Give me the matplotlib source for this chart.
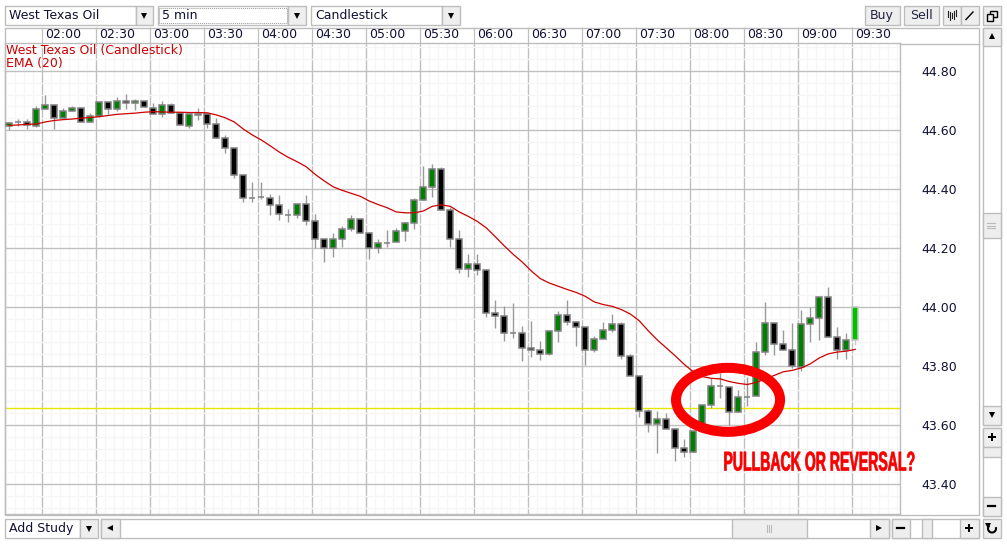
import numpy as np
import matplotlib
matplotlib.use("Agg")
import matplotlib.pyplot as plt
from matplotlib.patches import Rectangle, Ellipse, Arc
from matplotlib.patheffects import AbstractPathEffect
from matplotlib.transforms import Affine2D, ScaledTranslation

# 5 min bars, first bar starts 01:40
opens = [44.614, 44.628, 44.628, 44.614, 44.670, 44.683, 44.640, 44.665, 44.673, 44.626,
         44.648, 44.694, 44.670, 44.699, 44.690, 44.697, 44.676, 44.653, 44.686, 44.657,
         44.614, 44.653, 44.653, 44.619, 44.572, 44.538, 44.446, 44.370, 44.372, 44.370,
         44.345, 44.313, 44.312, 44.348, 44.290, 44.229, 44.199, 44.229, 44.263, 44.297,
         44.250, 44.199, 44.218, 44.219, 44.259, 44.284, 44.362, 44.406, 44.467, 44.328,
         44.229, 44.128, 44.147, 44.125, 43.979, 43.968, 43.911, 43.911, 43.860, 43.853,
         43.842, 43.918, 43.972, 43.948, 43.931, 43.853, 43.892, 43.921, 43.941, 43.833,
         43.765, 43.646, 43.602, 43.621, 43.585, 43.521, 43.507, 43.578, 43.667, 43.733,
         43.730, 43.643, 43.696, 43.697, 43.846, 43.945, 43.874, 43.853, 43.798, 43.941,
         43.962, 44.033, 43.897, 43.853, 43.887]
closes = [44.625, 44.627, 44.616, 44.671, 44.683, 44.640, 44.665, 44.673, 44.626, 44.648,
          44.694, 44.670, 44.699, 44.690, 44.697, 44.677, 44.653, 44.686, 44.657, 44.616,
          44.653, 44.652, 44.619, 44.572, 44.538, 44.446, 44.368, 44.369, 44.371, 44.345,
          44.314, 44.312, 44.348, 44.290, 44.229, 44.199, 44.229, 44.263, 44.297, 44.250,
          44.199, 44.216, 44.217, 44.259, 44.284, 44.362, 44.406, 44.467, 44.328, 44.229,
          44.128, 44.147, 44.125, 43.979, 43.968, 43.911, 43.910, 43.860, 43.853, 43.842,
          43.918, 43.972, 43.948, 43.931, 43.853, 43.892, 43.921, 43.941, 43.833, 43.765,
          43.646, 43.602, 43.621, 43.585, 43.521, 43.507, 43.579, 43.667, 43.733, 43.732,
          43.643, 43.694, 43.695, 43.846, 43.945, 43.874, 43.853, 43.799, 43.941, 43.962,
          44.033, 43.897, 43.853, 43.887, 43.999]
highs = [44.627, 44.637, 44.637, 44.681, 44.719, 44.683, 44.676, 44.681, 44.673, 44.656,
         44.694, 44.694, 44.713, 44.722, 44.704, 44.697, 44.692, 44.698, 44.692, 44.657,
         44.653, 44.676, 44.654, 44.641, 44.583, 44.538, 44.446, 44.424, 44.424, 44.383,
         44.380, 44.332, 44.348, 44.380, 44.315, 44.229, 44.250, 44.275, 44.312, 44.302,
         44.253, 44.229, 44.261, 44.267, 44.289, 44.368, 44.479, 44.485, 44.476, 44.338,
         44.261, 44.180, 44.180, 44.125, 44.024, 44.003, 44.014, 43.936, 43.953, 43.885,
         43.922, 43.986, 44.024, 43.953, 43.931, 43.902, 43.949, 43.976, 43.948, 43.841,
         43.765, 43.653, 43.647, 43.640, 43.585, 43.551, 43.580, 43.667, 43.758, 43.775,
         43.730, 43.719, 43.762, 43.882, 44.016, 43.945, 43.922, 43.946, 43.990, 43.999,
         44.033, 44.067, 43.931, 43.911, 44.000]
lows = [44.600, 44.614, 44.603, 44.610, 44.670, 44.603, 44.640, 44.664, 44.626, 44.626,
        44.644, 44.654, 44.665, 44.670, 44.668, 44.677, 44.653, 44.645, 44.657, 44.616,
        44.608, 44.632, 44.607, 44.572, 44.523, 44.438, 44.357, 44.357, 44.366, 44.312,
        44.293, 44.289, 44.300, 44.278, 44.201, 44.153, 44.168, 44.202, 44.259, 44.250,
        44.164, 44.184, 44.202, 44.219, 44.225, 44.263, 44.362, 44.374, 44.328, 44.203,
        44.116, 44.103, 44.108, 43.967, 43.930, 43.886, 43.896, 43.817, 43.831, 43.820,
        43.838, 43.881, 43.940, 43.868, 43.803, 43.848, 43.892, 43.915, 43.825, 43.765,
        43.628, 43.577, 43.506, 43.585, 43.479, 43.492, 43.507, 43.575, 43.657, 43.690,
        43.600, 43.643, 43.664, 43.697, 43.837, 43.837, 43.853, 43.792, 43.784, 43.882,
        43.888, 43.897, 43.825, 43.825, 43.871]
ema20 = [44.615, 44.617, 44.619, 44.620, 44.627, 44.632, 44.635, 44.637, 44.640, 44.642,
         44.645, 44.649, 44.653, 44.655, 44.657, 44.660, 44.662, 44.661, 44.660, 44.660,
         44.659, 44.659, 44.658, 44.651, 44.641, 44.627, 44.603, 44.583, 44.566, 44.546,
         44.525, 44.507, 44.492, 44.475, 44.449, 44.427, 44.407, 44.395, 44.385, 44.375,
         44.359, 44.347, 44.336, 44.322, 44.319, 44.319, 44.325, 44.341, 44.346, 44.341,
         44.322, 44.307, 44.290, 44.268, 44.238, 44.207, 44.178, 44.152, 44.122, 44.096,
         44.081, 44.070, 44.059, 44.049, 44.036, 44.017, 44.008, 44.002, 43.991, 43.976,
         43.953, 43.919, 43.888, 43.861, 43.834, 43.805, 43.780, 43.764, 43.758, 43.756,
         43.747, 43.741, 43.737, 43.744, 43.756, 43.768, 43.780, 43.785, 43.793, 43.807,
         43.827, 43.841, 43.847, 43.850, 43.856]
support_level = 43.658
price_ticks = [44.80, 44.60, 44.40, 44.20, 44.00, 43.80, 43.60, 43.40]
time_labels = ['02:00', '02:30', '03:00', '03:30', '04:00', '04:30', '05:00', '05:30',
               '06:00', '06:30', '07:00', '07:30', '08:00', '08:30', '09:00', '09:30']

BORDER = '#bdbdbd'
BTN = '#eeeeee'
FS = 9
W, H = 1007, 546

fig = plt.figure(figsize=(W / 100, H / 100), dpi=100, facecolor='white')
plt.rcParams['font.family'] = 'DejaVu Sans'

# widgets round the chart, in pixels
ui = fig.add_axes([0, 0, 1, 1], zorder=1)
ui.set_xlim(0, W)
ui.set_ylim(H, 0)
ui.axis('off')


def box(x0, y0, x1, y1, fc='white', ec=BORDER):
    ui.add_patch(Rectangle((x0, y0), x1 - x0, y1 - y0, fc=fc, ec=ec, lw=1))


def arrow(x, y, marker, size=4):
    ui.plot([x], [y], marker=marker, color='black', ms=size, mew=0, ls='none')


def dash(x, y):
    ui.plot([x - 3.5, x + 3.5], [y, y], color='black', lw=1.6)


def combo(x0, x1, btn_x, label, y0=6, y1=24.5):
    box(x0, y0, btn_x, y1)
    box(btn_x, y0, x1, y1, fc=BTN)
    arrow((btn_x + x1) / 2, (y0 + y1) / 2 + 0.5, 'v', 5)
    ui.text(x0 + 4.5, (y0 + y1) / 2, label, fontsize=FS, va='center', color='#111133')


def button(x0, x1, label, y0=6, y1=24.5):
    box(x0, y0, x1, y1, fc=BTN)
    ui.text((x0 + x1) / 2, (y0 + y1) / 2, label, fontsize=FS, va='center', ha='center',
            color='#222244')


combo(4.5, 153, 135.5, 'West Texas Oil')
combo(157.5, 306, 288, '5 min')
ui.add_patch(Rectangle((159, 7.5), 128, 15.5, fc='none', ec='#999999', lw=0.7, ls=(0, (1, 1))))
combo(310.5, 459.5, 441.5, 'Candlestick')
button(864.5, 899.5, 'Buy')
button(903.5, 939, 'Sell')
box(942.5, 6, 960.5, 24.5, fc=BTN)
box(960.5, 6, 978.5, 24.5, fc=BTN)
for i, (a, b) in enumerate([(11, 17), (12, 20), (13, 18), (11, 19), (10, 16)]):
    ui.plot([947.5 + i * 2] * 2, [a, b], color='#222222', lw=0.8)
ui.plot([966, 973], [19.5, 12], color='black', lw=1)
box(982.5, 6, 1000.5, 24.5, fc=BTN)
box(990, 10.5, 996.5, 17, fc=BTN, ec='black')
box(987, 14, 993, 20.5, fc=BTN, ec='black')

# price axis frame and right side scroller
box(5, 27.5, 978.5, 514.5)
ui.plot([900, 978.5], [43.5, 43.5], color=BORDER, lw=1)
box(982.5, 27.5, 1000.5, 424.5)
box(982.5, 27.5, 1000.5, 45.5, fc=BTN)
arrow(991.5, 36, '^', 5)
box(982.5, 213, 1000.5, 237.5, fc=BTN)
for yy in (223, 225.5, 228):
    ui.plot([987, 994.5], [yy, yy], color='#bbbbbb', lw=0.8)
box(982.5, 406, 1000.5, 424.5, fc=BTN)
arrow(991.5, 415, 'v', 5)
box(982.5, 428, 1000.5, 515.5)
box(982.5, 428, 1000.5, 446.5, fc=BTN)
arrow(991.5, 437, 'P', 6)
box(982.5, 446.5, 1000.5, 457, fc=BTN)
box(982.5, 497, 1000.5, 515.5, fc=BTN)
dash(991.5, 506)

# bottom bar
combo(4.5, 98, 79.5, 'Add Study', 519, 537.5)
box(101, 519, 888.5, 537.5)
box(101, 519, 119.5, 537.5, fc=BTN)
arrow(110, 528, '<', 5)
box(731.5, 519, 806.5, 537.5, fc=BTN)
for xx in (767, 769, 771):
    ui.plot([xx, xx], [524.5, 532], color='#bbbbbb', lw=0.8)
box(869.5, 519, 888.5, 537.5, fc=BTN)
arrow(879, 528, '>', 5)
box(891.5, 519, 978.5, 537.5)
box(891.5, 519, 909.5, 537.5, fc=BTN)
dash(900.5, 528)
box(921.5, 519, 931.5, 537.5, fc=BTN)
box(960, 519, 978.5, 537.5, fc=BTN)
arrow(969, 528, 'P', 6)
box(982.5, 519, 1000.5, 537.5, fc=BTN)
ui.add_patch(Arc((992, 528.5), 8, 8, theta1=-20, theta2=230, color='black', lw=1.5))
arrow(987.5, 526, 'v', 4)

# chart
ax = fig.add_axes([5 / W, (H - 514) / H, 895 / W, 470.5 / H], zorder=2, facecolor='none')
ax.set_xlim(99.72, 596.94)
ax.set_ylim(43.298, 44.893)

n = len(opens)
t = 102.1 + 5 * np.arange(n)
opens = np.array(opens)
closes = np.array(closes)

major_t = 120 + 30 * np.arange(len(time_labels))
ax.set_xticks(major_t)
ax.set_xticklabels(time_labels)
ax.set_xticks(np.arange(100, 597, 5), minor=True)
ax.set_yticks(price_ticks)
ax.set_yticklabels(['%.2f' % p for p in price_ticks])
ax.set_yticks(np.arange(43.32, 44.89, 0.04), minor=True)
ax.grid(True, which='minor', color='#f6f6f6', lw=1)
ax.grid(True, which='major', color='#c0c0c0', lw=1)
ax.set_axisbelow(True)
ax.xaxis.tick_top()
ax.yaxis.tick_right()
ax.tick_params(axis='x', which='major', length=11.3, width=0.9, color='#c0c0c0', pad=-9.6,
               labelsize=FS, labelcolor='#111133')
ax.tick_params(axis='y', which='major', length=0, pad=15.5, labelsize=FS, labelcolor='#111133')
ax.tick_params(which='minor', length=0)
for lab in ax.get_xticklabels():
    lab.set_ha('left')
    lab.set_transform(lab.get_transform() + ScaledTranslation(3.5 / 100, 0, fig.dpi_scale_trans))
for side in ax.spines.values():
    side.set_color(BORDER)
    side.set_linewidth(1)

ax.axhline(support_level, color='#e6e600', lw=1, zorder=1.5)
wick_c = ['#999999'] * (n - 1) + ['#cccccc']
ax.vlines(t, lows, highs, colors=wick_c, lw=1, zorder=2)
colors = ['#008000' if c > o else 'black' for o, c in zip(opens, closes)]
colors[-1] = '#00c000'
edges = ['#808080'] * (n - 1) + ['#c8c8c8']
ax.bar(t, np.abs(closes - opens), bottom=np.minimum(opens, closes), width=3.4, color=colors,
       edgecolor=edges, lw=1.1, zorder=3)
ax.plot(t, ema20, color='#cc0000', lw=0.9, zorder=4)

ax.text(1 / 895, (514 - 50.7) / 470.5, 'West Texas Oil (Candlestick)', transform=ax.transAxes,
        fontsize=FS, color='#cc0000', va='center')
ax.text(1 / 895, (514 - 63.3) / 470.5, 'EMA (20)', transform=ax.transAxes,
        fontsize=FS, color='#cc0000', va='center')


# squeeze the note sideways, no condensed poster font here
class Squeeze(AbstractPathEffect):
    def __init__(self, cx, sx):
        super().__init__()
        self.cx = cx
        self.sx = sx

    def draw_path(self, renderer, gc, tpath, affine, rgbFace=None):
        squeeze = Affine2D().translate(-self.cx, 0).scale(self.sx, 1).translate(self.cx, 0)
        gc0 = renderer.new_gc()
        gc0.copy_properties(gc)
        gc0.set_linewidth(0.5)
        gc0.set_foreground(rgbFace)
        renderer.draw_path(gc0, tpath, affine + squeeze, rgbFace)
        gc0.restore()


# hand drawn bits
ax.add_patch(Ellipse((501.4, 43.685), 57.8, 0.217, fc='none', ec='#fa0000', lw=7.2, zorder=5))
note_t = 120 + (819.5 - 41.5) * 5 / 9
note = ax.text(note_t, 43.425, 'PULLBACK OR REVERSAL?', color='#f80000', fontsize=19.5,
               fontweight='bold', family='Liberation Sans', va='bottom', ha='center', zorder=6)
note.set_path_effects([Squeeze(ax.transData.transform((note_t, 43.425))[0], 0.52)])

plt.savefig('out.png', dpi=100)
